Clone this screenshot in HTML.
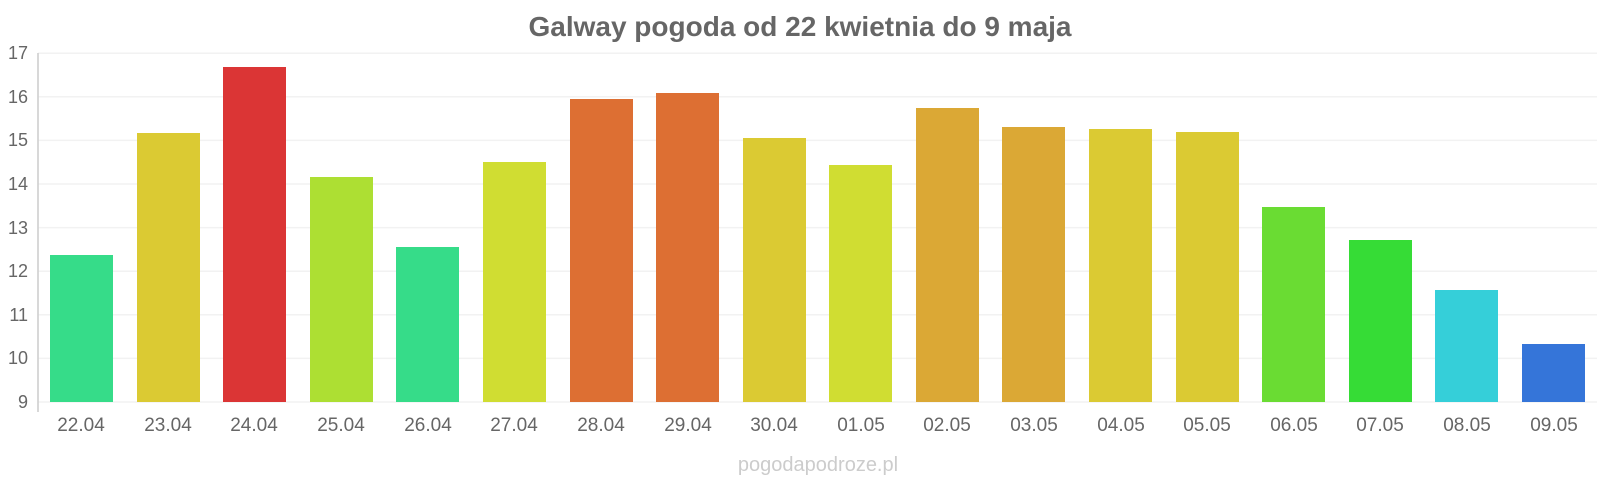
<!DOCTYPE html>
<html><head><meta charset="utf-8"><style>body{margin:0;background:#fff}svg{display:block}</style></head><body>
<svg width="1600" height="480" xmlns="http://www.w3.org/2000/svg" font-family="Liberation Sans, sans-serif">
<rect width="1600" height="480" fill="#fff"/>
<text x="800" y="36" text-anchor="middle" font-size="28" font-weight="bold" fill="#666">Galway pogoda od 22 kwietnia do 9 maja</text>
<g stroke="#f2f2f2" stroke-width="1.5">
<line x1="38" x2="1597" y1="53.2" y2="53.2"/><line x1="38" x2="1597" y1="96.8" y2="96.8"/><line x1="38" x2="1597" y1="140.4" y2="140.4"/><line x1="38" x2="1597" y1="184" y2="184"/><line x1="38" x2="1597" y1="227.6" y2="227.6"/><line x1="38" x2="1597" y1="271.2" y2="271.2"/><line x1="38" x2="1597" y1="314.8" y2="314.8"/><line x1="38" x2="1597" y1="358.4" y2="358.4"/><line x1="38" x2="1597" y1="402" y2="402"/>
</g>
<line x1="38" x2="38" y1="53" y2="412" stroke="#ccc" stroke-width="1.5"/>
<g font-size="18" fill="#666" text-anchor="end">
<text x="28" y="59">17</text><text x="28" y="103">16</text><text x="28" y="146">15</text><text x="28" y="190">14</text><text x="28" y="234">13</text><text x="28" y="277">12</text><text x="28" y="321">11</text><text x="28" y="364">10</text><text x="28" y="408">9</text>
</g>
<g>
<rect x="50" y="255" width="63" height="147" fill="#36dc89"/>
<rect x="137" y="133" width="63" height="269" fill="#dbca33"/>
<rect x="223" y="67" width="63" height="335" fill="#db3535"/>
<rect x="310" y="177" width="63" height="225" fill="#addf33"/>
<rect x="396" y="247" width="63" height="155" fill="#36dc89"/>
<rect x="483" y="162" width="63" height="240" fill="#d0dd32"/>
<rect x="570" y="99" width="63" height="303" fill="#dd6f33"/>
<rect x="656" y="93" width="63" height="309" fill="#dd6f33"/>
<rect x="743" y="138" width="63" height="264" fill="#dbca33"/>
<rect x="829" y="165" width="63" height="237" fill="#d0dd32"/>
<rect x="916" y="108" width="63" height="294" fill="#dba835"/>
<rect x="1002" y="127" width="63" height="275" fill="#dba835"/>
<rect x="1089" y="129" width="63" height="273" fill="#dbca33"/>
<rect x="1176" y="132" width="63" height="270" fill="#dbca33"/>
<rect x="1262" y="207" width="63" height="195" fill="#6adc33"/>
<rect x="1349" y="240" width="63" height="162" fill="#36dc36"/>
<rect x="1435" y="290" width="63" height="112" fill="#35cfd9"/>
<rect x="1522" y="344" width="63" height="58" fill="#3575d9"/>
</g>
<g font-size="19" fill="#666" text-anchor="middle">
<text x="81" y="431">22.04</text><text x="168" y="431">23.04</text><text x="254" y="431">24.04</text><text x="341" y="431">25.04</text><text x="428" y="431">26.04</text><text x="514" y="431">27.04</text><text x="601" y="431">28.04</text><text x="688" y="431">29.04</text><text x="774" y="431">30.04</text><text x="861" y="431">01.05</text><text x="947" y="431">02.05</text><text x="1034" y="431">03.05</text><text x="1121" y="431">04.05</text><text x="1207" y="431">05.05</text><text x="1294" y="431">06.05</text><text x="1380" y="431">07.05</text><text x="1467" y="431">08.05</text><text x="1554" y="431">09.05</text>
</g>
<text x="818" y="471" text-anchor="middle" font-size="20" fill="#ccc">pogodapodroze.pl</text>
</svg>
</body></html>
